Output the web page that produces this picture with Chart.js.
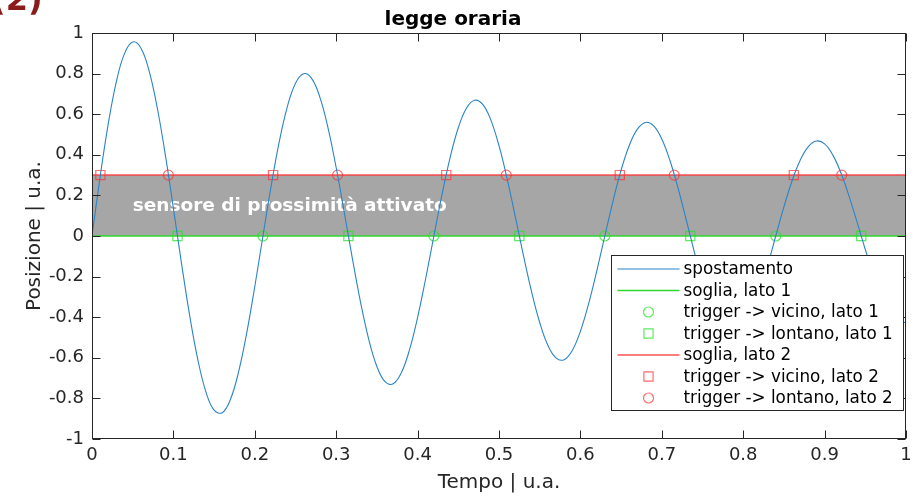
<!DOCTYPE html>
<html><head><meta charset="utf-8">
<script src="https://cdn.jsdelivr.net/npm/chart.js@4.4.1/dist/chart.umd.min.js"></script>
<style>html,body{margin:0;padding:0;background:#fff;}#c{display:block;}</style>
</head><body>
<canvas id="c" width="923" height="504"></canvas>
<script>
// ---- data ----
const tempo = [0,0.01,0.02,0.03,0.04,0.05,0.06,0.07,0.08,0.09,0.10,
0.11,0.12,0.13,0.14,0.15,0.16,0.17,0.18,0.19,0.20,
0.21,0.22,0.23,0.24,0.25,0.26,0.27,0.28,0.29,0.30,0.31,
0.32,0.33,0.34,0.35,0.36,0.37,0.38,0.39,0.40,0.41,
0.42,0.43,0.44,0.45,0.46,0.47,0.48,0.49,0.50,0.51,0.52,
0.53,0.54,0.55,0.56,0.57,0.58,0.59,0.60,0.61,0.62,
0.63,0.64,0.65,0.66,0.67,0.68,0.69,0.70,0.71,0.72,0.73,
0.74,0.75,0.76,0.77,0.78,0.79,0.80,0.81,0.82,0.83,
0.84,0.85,0.86,0.87,0.88,0.89,0.90,0.91,0.92,0.93,0.94,
0.95,0.96,0.97,0.98,0.99,1.00];
const spostamento = [0,0.2923,0.5538,0.7621,0.8998,0.9557,0.9264,0.8160,0.6355,0.4019,0.1369,
-0.1357,-0.3918,-0.6090,-0.7688,-0.8582,-0.8704,-0.8057,-0.6709,-0.4793,-0.2487,
0,0.2445,0.4633,0.6375,0.7527,0.7995,0.7750,0.6826,0.5316,0.3362,0.1145,
-0.1135,-0.3278,-0.5095,-0.6432,-0.7179,-0.7281,-0.6740,-0.5612,-0.4009,-0.2081,
0,0.2045,0.3875,0.5333,0.6296,0.6688,0.6483,0.5710,0.4447,0.2813,0.0958,
-0.0950,-0.2742,-0.4262,-0.5380,-0.6005,-0.6091,-0.5638,-0.4695,-0.3354,-0.1740,
0,0.1711,0.3242,0.4461,0.5267,0.5595,0.5423,0.4777,0.3720,0.2353,0.0801,
-0.0794,-0.2294,-0.3565,-0.4501,-0.5024,-0.5095,-0.4716,-0.3927,-0.2806,-0.1456,
0,0.1431,0.2712,0.3732,0.4406,0.4680,0.4537,0.3996,0.3112,0.1968,0.0670,
-0.0665,-0.1919,-0.2983,-0.3765,-0.4203,-0.4262];
const soglia1 = 0;
const soglia2 = 0.3;
const sogliaRange = [0, 1];
const triggerVicino1 = [0.21, 0.42, 0.63, 0.84];
const triggerLontano1 = [0.105, 0.315, 0.525, 0.735, 0.945];
const triggerVicino2 = [0.0103, 0.2225, 0.4352, 0.6484, 0.8622];
const triggerLontano2 = [0.0938, 0.3016, 0.5089, 0.7153, 0.921];
const seriesLabels = ['spostamento','soglia, lato 1','trigger -> vicino, lato 1','trigger -> lontano, lato 1','soglia, lato 2','trigger -> vicino, lato 2','trigger -> lontano, lato 2'];
const xTicks = [0,0.1,0.2,0.3,0.4,0.5,0.6,0.7,0.8,0.9,1];
const xTickLabels = ['0','0.1','0.2','0.3','0.4','0.5','0.6','0.7','0.8','0.9','1'];
const yTicks = [-1,-0.8,-0.6,-0.4,-0.2,0,0.2,0.4,0.6,0.8,1];
const yTickLabels = ['-1','-0.8','-0.6','-0.4','-0.2','0','0.2','0.4','0.6','0.8','1'];
const titleText = 'legge oraria';
const xTitle = 'Tempo | u.a.';
const yTitle = 'Posizione | u.a.';
const bandText = 'sensore di prossimità attivato';
const bandTextPos = {x: 0.05, y: 0.15};
const panelTag = '(2)';

// ---- styles ----
const FONT = "'DejaVu Sans', 'Liberation Sans', sans-serif";
const AX = '#262626';
const BLUE = '#2a84c8';
const GREEN_LINE = '#2ed62e';
const GREEN_MK = 'rgba(40,225,40,0.75)';
const RED_LINE = 'rgba(255,50,50,0.85)';
const RED_MK = 'rgba(255,45,45,0.7)';
const BAND = '#a6a6a6';

const pts = (xs, y) => xs.map(x => ({x: x, y: y}));

const datasets = [
  {label: seriesLabels[0], data: tempo.map((t,i)=>({x:t,y:spostamento[i]})), showLine:true,
   borderColor: BLUE, borderWidth: 1.1, pointRadius: 0, tension: 0.4, fill:false, _kind:'line'},
  {label: seriesLabels[1], data: pts(sogliaRange, soglia1), showLine:true, borderColor: GREEN_LINE,
   borderWidth: 1.5, pointRadius: 0, fill:false, _kind:'line'},
  {label: seriesLabels[2], data: pts(triggerVicino1, soglia1), showLine:false, pointStyle:'circle',
   pointRadius: 5, borderColor: GREEN_MK, backgroundColor:'rgba(0,0,0,0)', pointBorderWidth:1.2, _kind:'marker'},
  {label: seriesLabels[3], data: pts(triggerLontano1, soglia1), showLine:false, pointStyle:'rect',
   pointRadius: 6.5, borderColor: GREEN_MK, backgroundColor:'rgba(0,0,0,0)', pointBorderWidth:1.2, _kind:'marker'},
  {label: seriesLabels[4], data: pts(sogliaRange, soglia2), showLine:true, borderColor: RED_LINE,
   borderWidth: 1.5, pointRadius: 0, fill: {target: 1}, backgroundColor: BAND, _kind:'line'},
  {label: seriesLabels[5], data: pts(triggerVicino2, soglia2), showLine:false, pointStyle:'rect',
   pointRadius: 6.5, borderColor: RED_MK, backgroundColor:'rgba(0,0,0,0)', pointBorderWidth:1.2, _kind:'marker'},
  {label: seriesLabels[6], data: pts(triggerLontano2, soglia2), showLine:false, pointStyle:'circle',
   pointRadius: 5, borderColor: RED_MK, backgroundColor:'rgba(0,0,0,0)', pointBorderWidth:1.2, _kind:'marker'}
];

const decor = {
  id: 'decor',
  beforeDatasetsDraw(chart) {
    const ctx = chart.ctx, xs = chart.scales.x, ys = chart.scales.y;
    ctx.save();
    ctx.font = 'bold 18.5px ' + FONT;
    ctx.fillStyle = '#ffffff';
    ctx.textAlign = 'left';
    ctx.textBaseline = 'middle';
    ctx.fillText(bandText, xs.getPixelForValue(bandTextPos.x), ys.getPixelForValue(bandTextPos.y) + 1);
    ctx.restore();
  },
  afterDraw(chart) {
    const ctx = chart.ctx, ca = chart.chartArea, xs = chart.scales.x, ys = chart.scales.y;
    ctx.save();
    // box
    ctx.strokeStyle = AX; ctx.lineWidth = 1;
    const L = Math.round(ca.left)+0.5, R = Math.round(ca.right)-0.5, T = Math.round(ca.top)+0.5, B = Math.round(ca.bottom)-0.5;
    ctx.strokeRect(L, T, R-L, B-T);
    // inward ticks
    const tl = 8;
    ctx.beginPath();
    xTicks.forEach(v => {
      const p = Math.round(xs.getPixelForValue(v)) + 0.5;
      ctx.moveTo(p, B); ctx.lineTo(p, B - tl);
      ctx.moveTo(p, T); ctx.lineTo(p, T + tl);
    });
    yTicks.forEach(v => {
      const p = Math.round(ys.getPixelForValue(v)) + 0.5;
      ctx.moveTo(L, p); ctx.lineTo(L + tl, p);
      ctx.moveTo(R, p); ctx.lineTo(R - tl, p);
    });
    ctx.stroke();

    // legend
    const lw = 292, lh = 155;
    const x0 = Math.round(ca.right - 3 - lw) + 0.5, y0 = Math.round(ca.bottom - 29 - lh) + 0.5;
    ctx.fillStyle = '#ffffff';
    ctx.fillRect(x0, y0, lw, lh);
    ctx.strokeStyle = AX; ctx.lineWidth = 1;
    ctx.strokeRect(x0, y0, lw, lh);
    ctx.font = '16.8px ' + FONT;
    ctx.textAlign = 'left'; ctx.textBaseline = 'middle';
    chart.data.datasets.forEach((ds, i) => {
      const cy = y0 + 13.5 + i * 21.5;
      if (ds._kind === 'line') {
        ctx.strokeStyle = ds.borderColor; ctx.lineWidth = ds.borderWidth;
        ctx.beginPath(); ctx.moveTo(x0 + 6, cy); ctx.lineTo(x0 + 68, cy); ctx.stroke();
      } else {
        ctx.strokeStyle = ds.borderColor; ctx.lineWidth = 1.2;
        ctx.beginPath();
        if (ds.pointStyle === 'circle') ctx.arc(x0 + 37, cy, ds.pointRadius, 0, Math.PI*2);
        else { const s = ds.pointRadius * Math.SQRT1_2; ctx.rect(x0 + 37 - s, cy - s, 2*s, 2*s); }
        ctx.stroke();
      }
      ctx.fillStyle = '#000000';
      ctx.fillText(ds.label, x0 + 72, cy + 1);
    });

    // panel tag (partly cut at the top)
    ctx.font = 'bold 32px ' + FONT;
    ctx.fillStyle = '#8b1a1a';
    ctx.textAlign = 'left'; ctx.textBaseline = 'alphabetic';
    ctx.fillText(panelTag, -9, 10);
    ctx.restore();
  }
};

new Chart(document.getElementById('c'), {
  type: 'scatter',
  data: {datasets: datasets},
  options: {
    responsive: false, animation: false, events: [],
    layout: {padding: {left: 0, right: 17, top: 0, bottom: 0}},
    plugins: {
      legend: {display: false}, tooltip: {enabled: false},
      filler: {drawTime: 'beforeDatasetsDraw'},
      title: {display: true, text: titleText, color: '#000', font: {family: FONT, size: 20, weight: 'bold'},
        padding: {top: 8, bottom: 1}}
    },
    scales: {
      x: {type: 'linear', min: 0, max: 1,
        afterBuildTicks: s => { s.ticks = xTicks.map(v => ({value: v})); },
        afterFit: s => { s.height = 65; },
        ticks: {callback: (v, i) => xTickLabels[i], color: AX, font: {family: FONT, size: 18}, padding: 6, maxRotation: 0, autoSkip: false},
        grid: {display: false, drawTicks: false}, border: {display: false},
        title: {display: true, text: xTitle, color: AX, font: {family: FONT, size: 20}, padding: {top: 0, bottom: 9}}
      },
      y: {type: 'linear', min: -1, max: 1,
        afterBuildTicks: s => { s.ticks = yTicks.map(v => ({value: v})); },
        afterFit: s => { s.width = 92; },
        ticks: {callback: (v, i) => yTickLabels[i], color: AX, font: {family: FONT, size: 18}, padding: 8, autoSkip: false},
        grid: {display: false, drawTicks: false}, border: {display: false},
        title: {display: true, text: yTitle, color: AX, font: {family: FONT, size: 20}, padding: {top: 23, bottom: 0}}
      }
    }
  },
  plugins: [decor]
});
</script>
</body></html>
